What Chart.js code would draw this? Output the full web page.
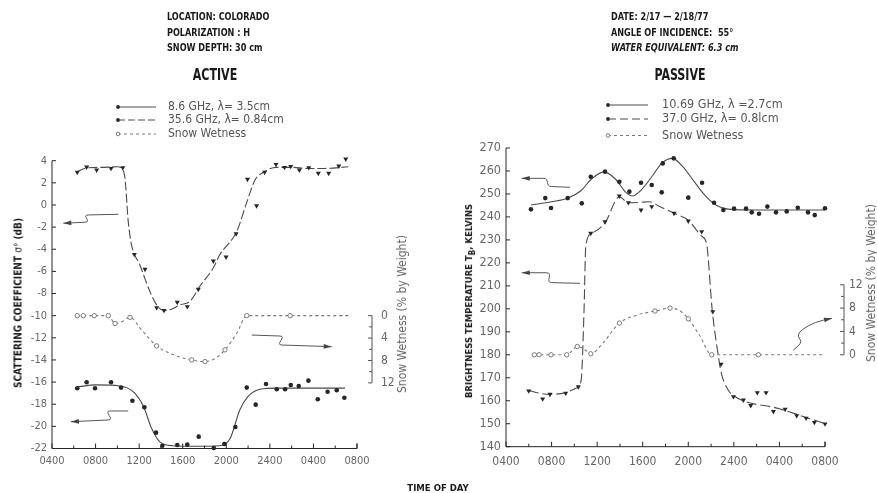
<!DOCTYPE html>
<html>
<head>
<meta charset="utf-8">
<script src="https://cdn.jsdelivr.net/npm/chart.js@4.4.1/dist/chart.umd.min.js"></script>
<style>
  html, body { margin: 0; padding: 0; background: #fff; overflow: hidden; }
  #page { position: relative; width: 877px; height: 493px; background: #fff; }
  canvas { position: absolute; top: 0; }
  .txt { position: absolute; white-space: nowrap; font-family: 'Liberation Sans Narrow', 'DejaVu Sans Condensed', 'Arial Narrow', sans-serif; color: #1a1a1a; }
  .hdr { font-size: 10.5px; font-weight: bold; line-height: 15.5px; transform: scaleX(0.86); transform-origin: 0 0; }
  .ttl { font-size: 15px; font-weight: bold; transform: translateX(-50%) scaleX(0.82); }
  .rot { transform: translate(-50%, -50%) rotate(-90deg); }
  .ytl { font-size: 10px; font-weight: bold; }
  .wtl { font-size: 12px; color: #666; }
</style>
</head>
<body>
<div id="page">
  <canvas id="activeChart" width="440" height="493" style="left:0"></canvas>
  <canvas id="passiveChart" width="437" height="493" style="left:440px"></canvas>

  <div class="txt hdr" style="left:167px;top:9px">LOCATION: COLORADO<br>POLARIZATION : H<br>SNOW DEPTH: 30 cm</div>
  <div class="txt hdr" style="left:611px;top:9px">DATE: 2/17 &mdash; 2/18/77<br>ANGLE OF INCIDENCE:&nbsp; 55&deg;<br><i>WATER EQUIVALENT: 6.3 cm</i></div>
  <div class="txt ttl" style="left:215px;top:66px">ACTIVE</div>
  <div class="txt ttl" style="left:680px;top:66px">PASSIVE</div>

  <div class="txt rot ytl" style="left:17.5px;top:303px">SCATTERING COEFFICIENT <span style="font-weight:normal">&sigma;&deg;</span> (dB)</div>
  <div class="txt rot ytl" style="left:470px;top:301px;font-size:9.5px">BRIGHTNESS TEMPERATURE T<sub style="font-size:8px">B</sub>, KELVINS</div>
  <div class="txt rot wtl" style="left:402px;top:314px">Snow Wetness (% by Weight)</div>
  <div class="txt rot wtl" style="left:871px;top:283px">Snow Wetness (% by Weight)</div>
  <div class="txt" style="left:438px;top:482px;font-size:9.5px;font-weight:bold;transform:translateX(-50%)">TIME OF DAY</div>
</div>

<script>
// time axis: hours counted from midnight of the first day (0400 .. 0800 next morning)
const hourTicks = [4, 8, 12, 16, 20, 24, 28, 32];
const tickLabels = ['0400', '0800', '1200', '1600', '2000', '2400', '0400', '0800'];

// ACTIVE: 8.6 GHz scattering coefficient (dB)
const act86Hours = [6.32, 7.18, 7.95, 9.42, 10.34, 11.38, 12.48, 13.55, 14.13, 15.5, 16.42, 17.47, 18.85, 19.82, 20.83, 21.88, 22.7, 23.65, 24.63, 25.4, 25.92, 26.65, 27.54, 28.4, 29.3, 30.14, 30.84];
const act86Db = [-16.56, -16.02, -16.56, -16.02, -16.5, -17.68, -18.28, -20.57, -21.75, -21.68, -21.65, -20.93, -21.95, -21.6, -20.06, -16.5, -18.04, -16.17, -16.65, -16.65, -16.26, -16.35, -15.87, -17.55, -16.87, -16.74, -17.41];
const act86FitHours = [6.3, 8.0, 10.2, 11.5, 12.4, 13.15, 13.9, 15.1, 17.0, 19.4, 20.35, 21.25, 22.0, 23.1, 24.6, 27.0, 30.9];
const act86FitDb = [-16.45, -16.25, -16.35, -16.9, -18.2, -20.2, -21.4, -21.75, -21.8, -21.75, -21.1, -18.5, -17.3, -16.65, -16.55, -16.55, -16.55];

// ACTIVE: 35.6 GHz scattering coefficient (dB)
const act356Hours = [6.32, 7.18, 8.1, 9.42, 10.5, 11.56, 12.54, 13.61, 14.28, 15.5, 16.42, 17.43, 18.81, 19.98, 20.9, 21.95, 22.78, 23.52, 24.56, 25.35, 25.92, 26.71, 27.57, 28.45, 29.4, 30.33, 30.97];
const act356Db = [2.95, 3.43, 3.16, 3.31, 3.37, -4.46, -5.81, -9.28, -9.52, -8.79, -9.19, -7.62, -5.06, -4.7, -2.6, 2.32, -0.07, 2.95, 3.67, 3.4, 3.49, 3.16, 3.37, 2.86, 2.86, 3.52, 4.15];
const act356FitHours = [6.3, 7.2, 8.5, 10.0, 10.4, 10.7, 11.0, 11.3, 12.06, 12.98, 13.6, 14.28, 15.0, 15.75, 16.67, 17.6, 18.8, 19.4, 20.96, 21.9, 22.64, 23.4, 24.6, 26.0, 27.5, 29.0, 31.2];
const act356FitDb = [3.0, 3.35, 3.4, 3.45, 3.3, 2.4, -1.5, -3.6, -5.4, -7.8, -9.03, -9.55, -9.4, -9.03, -8.7, -7.3, -5.7, -4.5, -2.4, 0.3, 2.26, 2.95, 3.4, 3.4, 3.3, 3.3, 3.45];

// ACTIVE: snow wetness (% by weight)
const actWetHours = [6.32, 6.87, 7.88, 9.17, 9.79, 11.16, 13.6, 16.82, 18.05, 19.88, 21.88, 25.86];
const actWetPct = [0, 0, 0, 0, 1.4, 0.3, 5.4, 7.9, 8.2, 6.1, 0, 0];
const actWetLineHours = [6.32, 9.17, 9.79, 10.5, 11.16, 12.2, 13.6, 15.2, 16.82, 18.05, 19.0, 19.88, 21.0, 21.88, 25.86, 31.2];
const actWetLinePct = [0, 0, 1.4, 1.0, 0.3, 2.5, 5.4, 7.0, 7.9, 8.2, 7.6, 6.1, 3.0, 0, 0, 0];

// PASSIVE: 10.69 GHz brightness temperature (K)
const pas1069Hours = [6.19, 7.45, 7.95, 9.42, 10.65, 11.44, 12.69, 13.95, 14.83, 15.85, 16.79, 17.67, 17.76, 18.72, 20.0, 21.21, 22.26, 23.08, 24.02, 25.07, 25.57, 26.21, 26.94, 27.7, 28.64, 29.61, 30.51, 31.1, 32.0];
const pas1069K = [243.3, 248.2, 243.9, 248.2, 245.9, 257.5, 259.7, 255.3, 251.0, 254.9, 253.9, 250.7, 263.3, 265.5, 248.4, 254.9, 246.2, 243.0, 243.6, 243.6, 242.0, 241.4, 244.5, 242.0, 242.4, 244.0, 242.0, 240.8, 243.8];
const pas1069FitHours = [6.2, 8.0, 9.4, 10.6, 11.5, 12.6, 13.6, 14.5, 15.1, 15.8, 16.8, 17.7, 18.6, 19.5, 20.5, 21.5, 22.5, 23.5, 26.0, 29.0, 32.0];
const pas1069FitK = [245.2, 246.6, 248.1, 251.5, 256.5, 259.6, 256.5, 250.8, 249.1, 251.4, 257.5, 263.5, 265.5, 262.0, 255.5, 249.2, 245.0, 243.4, 243.0, 243.0, 243.0];

// PASSIVE: 37.0 GHz brightness temperature (K)
const pas37Hours = [5.99, 7.22, 7.86, 9.24, 10.35, 11.44, 12.69, 13.95, 14.74, 15.85, 16.79, 18.75, 20.0, 21.18, 22.15, 22.88, 23.96, 24.84, 25.48, 26.06, 26.83, 27.47, 28.5, 29.52, 30.34, 31.07, 32.0];
const pas37K = [164.3, 160.8, 162.8, 163.3, 166.1, 232.9, 237.9, 249.1, 246.2, 243.0, 244.5, 241.6, 238.2, 233.6, 198.8, 175.9, 161.8, 160.3, 157.9, 163.5, 163.5, 155.3, 156.3, 153.5, 152.4, 150.6, 149.9];
const pas37FitHours = [6.0, 7.0, 7.9, 9.2, 10.2, 10.6, 10.85, 11.0, 11.45, 12.7, 13.95, 14.7, 15.6, 16.6, 17.5, 18.8, 20.0, 21.2, 21.6, 22.1, 22.6, 22.9, 23.5, 24.0, 28.0, 32.0];
const pas37FitK = [164.5, 163.2, 162.8, 163.5, 165.5, 169.0, 199.5, 227.0, 232.6, 237.5, 248.8, 246.2, 246.3, 246.6, 244.5, 241.5, 238.5, 231.5, 228.5, 199.5, 180.7, 172.0, 164.7, 162.1, 156.5, 150.0];

// PASSIVE: snow wetness (% by weight)
const pasWetHours = [6.49, 6.9, 7.95, 9.33, 10.26, 11.44, 13.95, 17.08, 18.4, 20.0, 22.06, 26.15];
const pasWetPct = [0, 0, 0, 0, 1.42, 0.17, 5.43, 7.5, 8.0, 6.17, 0, 0];
const pasWetLineHours = [6.49, 9.33, 10.26, 10.9, 11.44, 12.5, 13.95, 15.5, 17.08, 18.4, 19.2, 20.0, 21.0, 22.06, 26.15, 31.8];
const pasWetLinePct = [0, 0, 1.42, 0.9, 0.17, 2.0, 5.43, 6.8, 7.5, 8.0, 7.6, 6.17, 3.3, 0, 0, 0];

// wetness axis ticks and labels
const wetTicks = [0, 2, 4, 6, 8, 10, 12];
const wetLabels = [0, 4, 8, 12];

const NARROW = "'Liberation Sans Narrow', 'DejaVu Sans Condensed', 'Arial Narrow', sans-serif";
const INK = '#262626';
const LINE = '#4a4a4a';
const WET = '#7a7a7a';

const pts = (xs, ys) => xs.map((x, i) => ({ x: x, y: ys[i] }));

function fitLine(xs, ys, dash, axis) {
  return {
    type: 'line', data: pts(xs, ys), borderColor: LINE, borderWidth: 1.1,
    borderDash: dash, pointRadius: 0, cubicInterpolationMode: 'monotone',
    yAxisID: axis || 'y', clip: false
  };
}
function marks(xs, ys, style) {
  return Object.assign({
    data: pts(xs, ys), showLine: false, pointRadius: 2.3, borderWidth: 0,
    backgroundColor: INK, borderColor: INK, pointStyle: 'circle', yAxisID: 'y', clip: false
  }, style);
}
const triangle = { pointStyle: 'triangle', pointRotation: 180, pointRadius: 2.9 };
const openDot = { yAxisID: 'y2', backgroundColor: '#fff', borderColor: WET, borderWidth: 1, pointRadius: 2.2 };

// draws the L-shaped axes with inward ticks, the short wetness axis, pointer arrows and the key
const framePlugin = {
  id: 'frame',
  afterDraw(chart, args, o) {
    const { ctx, chartArea: a, scales } = chart;
    const sx = scales.x, sy = scales.y, sw = scales.y2;
    ctx.save();
    ctx.strokeStyle = INK;
    ctx.lineWidth = 1;
    ctx.beginPath();
    ctx.moveTo(a.left, a.top);
    ctx.lineTo(a.left, a.bottom);
    ctx.lineTo(a.right, a.bottom);
    ctx.lineTo(a.right, a.bottom - 5);
    sy.ticks.forEach(t => {
      const py = sy.getPixelForValue(t.value);
      ctx.moveTo(a.left, py);
      ctx.lineTo(a.left + 4, py);
    });
    for (let h = sx.min; h <= sx.max; h += 2) {
      const px = sx.getPixelForValue(h);
      ctx.moveTo(px, a.bottom);
      ctx.lineTo(px, a.bottom - (h % 4 === 0 ? 5 : 3));
    }
    ctx.stroke();

    // wetness scale
    const wx = a.right + o.wetOffset;
    ctx.strokeStyle = '#555';
    ctx.beginPath();
    ctx.moveTo(wx, sw.getPixelForValue(wetTicks[0]));
    ctx.lineTo(wx, sw.getPixelForValue(wetTicks[wetTicks.length - 1]));
    wetTicks.forEach(v => {
      const py = sw.getPixelForValue(v);
      ctx.moveTo(wx, py);
      ctx.lineTo(wx - (v % 4 === 0 ? 4 : 3), py);
    });
    ctx.stroke();
    ctx.fillStyle = '#666';
    ctx.font = o.wetFont + 'px ' + NARROW;
    ctx.textAlign = 'left';
    ctx.textBaseline = 'middle';
    wetLabels.forEach(v => ctx.fillText(String(v), wx + o.wetLabelGap, sw.getPixelForValue(v)));

    // pointer arrows
    ctx.strokeStyle = '#555';
    ctx.fillStyle = '#444';
    ctx.lineWidth = 1;
    const toPx = p => ({ x: sx.getPixelForValue(p[0]), y: sy.getPixelForValue(p[1]) });
    o.arrows.forEach(ar => {
      const p = ar.map(toPx);
      ctx.beginPath();
      ctx.moveTo(p[0].x, p[0].y);
      let prev;
      if (p.length === 4) {
        const s = Math.sign(p[3].x - p[0].x);
        ctx.lineTo(p[1].x, p[1].y);
        ctx.bezierCurveTo(p[1].x + s * 7, p[1].y, p[2].x - s * 7, p[2].y, p[2].x, p[2].y);
        ctx.lineTo(p[3].x, p[3].y);
        prev = p[2];
      } else {
        for (let i = 1; i < p.length - 1; i++) {
          const mx = (p[i].x + p[i + 1].x) / 2, my = (p[i].y + p[i + 1].y) / 2;
          ctx.quadraticCurveTo(p[i].x, p[i].y, mx, my);
        }
        ctx.lineTo(p[p.length - 1].x, p[p.length - 1].y);
        prev = p[p.length - 2];
      }
      ctx.stroke();
      const hd = p[p.length - 1];
      const ang = Math.atan2(hd.y - prev.y, hd.x - prev.x);
      ctx.beginPath();
      ctx.moveTo(hd.x, hd.y);
      ctx.lineTo(hd.x - 8 * Math.cos(ang) + 2.3 * Math.sin(ang), hd.y - 8 * Math.sin(ang) - 2.3 * Math.cos(ang));
      ctx.lineTo(hd.x - 8 * Math.cos(ang) - 2.3 * Math.sin(ang), hd.y - 8 * Math.sin(ang) + 2.3 * Math.cos(ang));
      ctx.closePath();
      ctx.fill();
    });

    // key
    const k = o.key;
    ctx.font = k.font + 'px ' + NARROW;
    ctx.textBaseline = 'middle';
    k.items.forEach((it, i) => {
      const y = k.ys[i];
      ctx.strokeStyle = it.wet ? WET : LINE;
      ctx.setLineDash(it.dash);
      ctx.beginPath();
      ctx.moveTo(k.x0, y);
      ctx.lineTo(k.x1, y);
      ctx.stroke();
      ctx.setLineDash([]);
      ctx.beginPath();
      ctx.arc(k.x0, y, it.wet ? 1.8 : 1.9, 0, Math.PI * 2);
      if (it.wet) { ctx.fillStyle = '#fff'; ctx.fill(); ctx.strokeStyle = WET; ctx.stroke(); }
      else { ctx.fillStyle = INK; ctx.fill(); }
      ctx.fillStyle = '#555';
      ctx.fillText(it.label, k.tx, y);
    });
    ctx.restore();
  }
};

function timeAxis(pad, size) {
  return {
    type: 'linear', min: 4, max: 32,
    afterBuildTicks: s => { s.ticks = hourTicks.map(v => ({ value: v })); },
    afterFit: s => { s.height = 20; },
    grid: { display: false, drawTicks: false },
    border: { display: false },
    ticks: {
      callback: (v, i) => tickLabels[i], autoSkip: false, maxRotation: 0,
      padding: pad, color: '#666', font: { family: NARROW, size: size }
    }
  };
}

function valueAxis(min, max, step, size) {
  return {
    min: min, max: max,
    ticks: { stepSize: step, padding: 5, color: '#666', font: { family: NARROW, size: size } },
    afterFit: s => { s.width = 30; },
    grid: { display: false, drawTicks: false },
    border: { display: false }
  };
}

// wetness on the active panel: 0 % sits on -10 dB, 12 % reaches about -16 dB (scale reversed)
const actWetZero = -10, actDbPerPct = 0.506;
// wetness on the passive panel: 0 % sits on 180 K, 12 % reaches about 210 K
const pasWetZero = 180, pasKPerPct = 2.54;

new Chart(document.getElementById('activeChart'), {
  type: 'scatter',
  data: {
    datasets: [
      marks(act86Hours, act86Db, {}),
      marks(act356Hours, act356Db, triangle),
      marks(actWetHours, actWetPct, openDot),
      fitLine(act86FitHours, act86FitDb, []),
      fitLine(act356FitHours, act356FitDb, [9, 3]),
      Object.assign(fitLine(actWetLineHours, actWetLinePct, [3, 3], 'y2'), { borderColor: WET })
    ]
  },
  options: {
    responsive: false, animation: false, events: [],
    layout: { padding: { left: 22, right: 83, top: 160.7, bottom: 24.5 } },
    plugins: {
      legend: { display: false }, tooltip: { enabled: false },
      frame: {
        wetOffset: 15, wetLabelGap: 9, wetFont: 12,
        arrows: [
          [[10.09, -0.84], [7.33, -0.9], [7.03, -1.56], [5.04, -1.65]],
          [[11.0, -18.61], [9.33, -18.61], [9.17, -19.42], [5.74, -19.58]],
          [[22.34, -11.75], [24.94, -11.84], [25.09, -12.65], [29.68, -12.8]]
        ],
        key: {
          x0: 118, x1: 156, tx: 168, font: 12, ys: [107, 120, 134],
          items: [
            { label: '8.6 GHz, \u03bb= 3.5cm', dash: [] },
            { label: '35.6 GHz, \u03bb= 0.84cm', dash: [7, 3] },
            { label: 'Snow Wetness', dash: [3, 3], wet: true }
          ]
        }
      }
    },
    scales: {
      x: timeAxis(6, 11),
      y: valueAxis(-22, 4, 2, 11),
      y2: {
        display: false, reverse: true,
        min: (actWetZero - 4) / actDbPerPct, max: (actWetZero + 22) / actDbPerPct
      }
    }
  },
  plugins: [framePlugin]
});

new Chart(document.getElementById('passiveChart'), {
  type: 'scatter',
  data: {
    datasets: [
      marks(pas1069Hours, pas1069K, {}),
      marks(pas37Hours, pas37K, triangle),
      marks(pasWetHours, pasWetPct, openDot),
      fitLine(pas1069FitHours, pas1069FitK, []),
      fitLine(pas37FitHours, pas37FitK, [10, 4]),
      Object.assign(fitLine(pasWetLineHours, pasWetLinePct, [3, 3], 'y2'), { borderColor: WET })
    ]
  },
  options: {
    responsive: false, animation: false, events: [],
    layout: { padding: { left: 36, right: 52, top: 148, bottom: 26.3 } },
    plugins: {
      legend: { display: false }, tooltip: { enabled: false },
      frame: {
        wetOffset: 19, wetLabelGap: 5, wetFont: 12,
        arrows: [
          [[9.62, 252.9], [8.01, 253.2], [7.27, 256.8], [5.38, 256.8]],
          [[10.5, 211.1], [8.01, 211.4], [7.57, 215.7], [5.38, 215.7]],
          [[29.22, 182.1], [30.08, 185.1], [29.55, 188.2], [29.9, 190.8], [31.13, 194.3], [32.62, 195.9]]
        ],
        key: {
          x0: 168, x1: 208, tx: 222, font: 12.5, ys: [105, 119, 135.5],
          items: [
            { label: '10.69 GHz, \u03bb =2.7cm', dash: [] },
            { label: '37.0 GHz, \u03bb= 0.8lcm', dash: [8, 4] },
            { label: 'Snow Wetness', dash: [3, 3], wet: true }
          ]
        }
      }
    },
    scales: {
      x: timeAxis(8, 12),
      y: valueAxis(140, 270, 10, 12.5),
      y2: {
        display: false,
        min: (140 - pasWetZero) / pasKPerPct, max: (270 - pasWetZero) / pasKPerPct
      }
    }
  },
  plugins: [framePlugin]
});
</script>
</body>
</html>
